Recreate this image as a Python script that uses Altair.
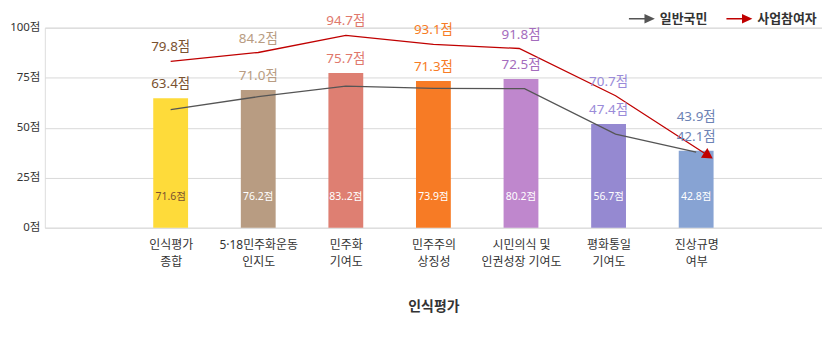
import altair as alt
import pandas as pd

FONT = "Noto Sans, Noto Sans CJK KR"

# ---- data ----
categories = ["인식평가|종합", "5·18민주화운동|인지도", "민주화|기여도", "민주주의|상징성",
              "시민의식 및|인권성장 기여도", "평화통일|기여도", "진상규명|여부"]
bar_index = [1, 2, 3, 4, 5, 6, 7]
bar_values = [64.7, 68.8, 77.3, 73.3, 74.3, 51.9, 38.5]
bar_labels = ["63.4점", "71.0점", "75.7점", "71.3점", "72.5점", "47.4점", "42.1점"]
top_labels = ["79.8점", "84.2점", "94.7점", "93.1점", "91.8점", "70.7점", "43.9점"]
inner_labels = ["71.6점", "76.2점", "83..2점", "73.9점", "80.2점", "56.7점", "42.8점"]

series_names = ["일반국민", "사업참여자"]
general_x = [1, 2, 3, 4, 5.04, 6.08, 7.0]
general_y = [59.0, 65.5, 70.8, 69.7, 69.5, 46.8, 37.8]
participant_x = [1, 2, 3, 4, 4.98, 6.08, 7.14]
participant_y = [83.2, 87.6, 96.2, 91.7, 89.6, 66.0, 36.0]

y_ticks = [0, 25, 50, 75, 100]

# ---- styles ----
bar_colors = ["#fedb3a", "#b89c82", "#de7f72", "#f77b25", "#bf87cd", "#9589d1", "#87a3d3"]
label_colors = ["#7a5230", "#b89c82", "#e0786c", "#f77b25", "#a46cbd", "#9a8bd9", "#6c82b4"]
inner_colors = ["#7a5230", "#ffffff", "#ffffff", "#ffffff", "#ffffff", "#ffffff", "#ffffff"]
line_colors = ["#555555", "#c00000"]

bars = pd.DataFrame({
    "x": bar_index,
    "cat": categories,
    "v": bar_values,
    "bar_label": bar_labels,
    "top_label": top_labels,
    "inner_label": inner_labels,
    "red": participant_y,
    "bcol": bar_colors,
    "lcol": label_colors,
    "icol": inner_colors,
})

lines = pd.DataFrame({
    "x": general_x + participant_x,
    "v": general_y + participant_y,
    "series": [series_names[0]] * len(general_x) + [series_names[1]] * len(participant_x),
    "lc": [line_colors[0]] * len(general_x) + [line_colors[1]] * len(participant_x),
    "order": list(range(len(general_x))) + list(range(len(participant_x))),
})

arrow = pd.DataFrame({"x": [participant_x[-1]], "v": [participant_y[-1]], "series": [series_names[1]]})

label_expr_arr = "[" + ",".join(["''"] + ["'" + c + "'" for c in categories]) + "]"

x_enc = alt.X(
    "x:Q",
    scale=alt.Scale(domain=[-0.38, 8.38], nice=False, zero=False),
    axis=alt.Axis(
        values=bar_index,
        labelExpr=f"split({label_expr_arr}[datum.value], '|')",
        grid=False, domain=False, ticks=False,
        labelFont=FONT, labelFontSize=12, labelColor="#333333",
        labelLineHeight=17, labelPadding=12, labelBaseline="top",
        title="인식평가", titleFont=FONT, titleFontSize=14, titleFontWeight="bold",
        titleColor="#333333", titlePadding=32,
    ),
)
y_scale = alt.Scale(domain=[0, 100], nice=False)
y_enc = alt.Y(
    "v:Q",
    scale=y_scale,
    axis=alt.Axis(
        values=y_ticks, labelExpr="datum.value + '점'", title=None,
        domain=False, ticks=False, gridColor="#d9d9d9", gridWidth=1,
        labelFont=FONT, labelFontSize=11.5, labelColor="#333333", labelPadding=5,
    ),
)

bar_layer = alt.Chart(bars).mark_bar(size=35).encode(
    x=x_enc, y=y_enc, color=alt.Color("bcol:N", scale=None)
)

line_layer = alt.Chart(lines).mark_line(strokeWidth=1.3).encode(
    x="x:Q",
    y="v:Q",
    order="order:Q",
    detail="series:N",
    color=alt.Color("lc:N", scale=None),
)

arrow_path = ("M-1,-0.055L0.2,-0.055L0.2,-0.36L1,0L0.2,0.36L0.2,0.055L-1,0.055Z")

arrow_layer = alt.Chart(arrow).mark_point(
    shape="triangle-right", filled=True, size=140, angle=33, opacity=1, strokeWidth=0
).encode(
    x="x:Q", y="v:Q",
    color=alt.Color(
        "series:N",
        scale=alt.Scale(domain=series_names, range=line_colors),
        legend=alt.Legend(
            title=None, orient="none", legendX=586, legendY=-23,
            direction="horizontal",
            symbolType=arrow_path, symbolSize=680, symbolOpacity=1,
            labelFont=FONT, labelFontSize=13, labelFontWeight="bold",
            labelColor="#333333", labelOffset=4, columnPadding=18,
        ),
    ),
)

bar_text = alt.Chart(bars).mark_text(
    font=FONT, fontSize=13.5, dy=-14, baseline="middle"
).encode(
    x="x:Q", y="v:Q", text="bar_label:N", color=alt.Color("lcol:N", scale=None)
)

top_text = alt.Chart(bars).transform_calculate(
    anchor="max(datum.red, datum.v + 10)"
).mark_text(
    font=FONT, fontSize=13.5, dy=-14, baseline="middle"
).encode(
    x="x:Q", y=alt.Y("anchor:Q", scale=y_scale), text="top_label:N",
    color=alt.Color("lcol:N", scale=None)
)

inner_text = alt.Chart(bars).mark_text(
    font=FONT, fontSize=10.5, baseline="middle"
).encode(
    x="x:Q", y=alt.datum(15.4), text="inner_label:N",
    color=alt.Color("icol:N", scale=None)
)

chart = alt.layer(
    bar_layer, line_layer, arrow_layer, bar_text, top_text, inner_text
).properties(
    width=781, height=201,
    autosize=alt.AutoSizeParams(type="none"),
    padding={"left": 37, "top": 19, "right": 0, "bottom": 100},
).configure_view(stroke="#d9d9d9", strokeWidth=1).configure(background="white")

chart.save("out.html", embed_options={"renderer": "svg", "actions": False})
